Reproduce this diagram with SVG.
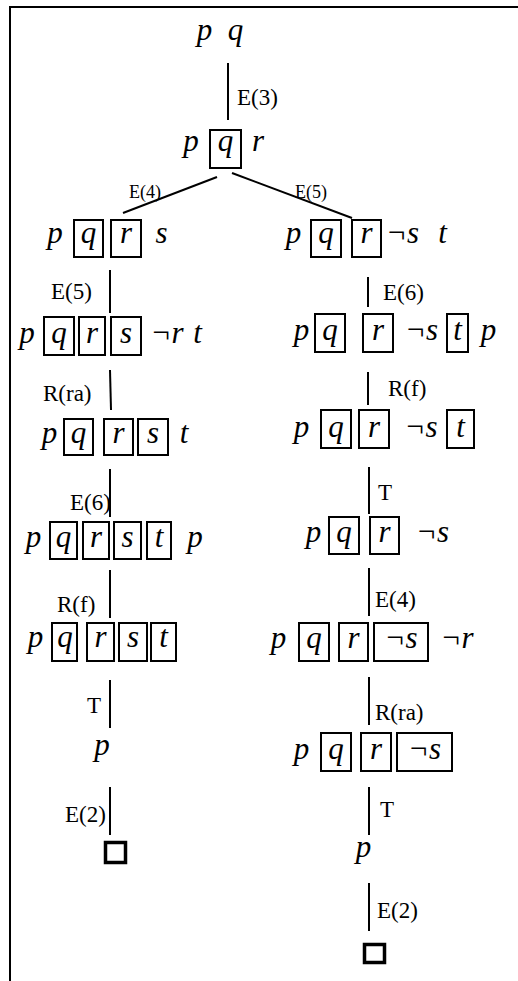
<svg xmlns="http://www.w3.org/2000/svg" width="518" height="981" viewBox="0 0 518 981">
<style>
.f{font-family:'Liberation Serif','Times New Roman',serif;font-style:italic;font-size:31px;text-anchor:middle;fill:#000}
.lb{font-family:'Liberation Serif','Times New Roman',serif;font-size:23px;fill:#000}
.ls{font-size:18px}
.bx{fill:none;stroke:#000;stroke-width:2}
.ln{stroke:#000;stroke-width:2;fill:none}
.sq{fill:none;stroke:#000;stroke-width:3.5}
</style>
<rect width="518" height="981" fill="#fff"/>
<path class="ln" d="M10,981 V7 H518"/>
<g id="connectors">
<line class="ln" x1="228" y1="63" x2="228" y2="120"/><text class="lb" x="237" y="105">E(3)</text>
<line class="ln" x1="217" y1="177" x2="123" y2="213"/><text class="lb ls" x="129" y="198">E(4)</text>
<line class="ln" x1="232" y1="173" x2="352" y2="218"/><text class="lb ls" x="295" y="198">E(5)</text>
<line class="ln" x1="110" y1="270" x2="110" y2="313"/><text class="lb" x="51" y="299">E(5)</text>
<line class="ln" x1="110" y1="370" x2="111" y2="410"/><text class="lb" x="43" y="401">R(ra)</text>
<line class="ln" x1="110" y1="469" x2="110" y2="517"/><text class="lb" x="70" y="510">E(6)</text>
<line class="ln" x1="110" y1="570" x2="110" y2="618"/><text class="lb" x="57" y="612">R(f)</text>
<line class="ln" x1="110" y1="680" x2="110" y2="728"/><text class="lb" x="87" y="713">T</text>
<line class="ln" x1="110" y1="787" x2="110" y2="835"/><text class="lb" x="65" y="822">E(2)</text>
<line class="ln" x1="368" y1="277" x2="368" y2="307"/><text class="lb" x="383" y="300">E(6)</text>
<line class="ln" x1="368" y1="372" x2="368" y2="405"/><text class="lb" x="388" y="396">R(f)</text>
<line class="ln" x1="369" y1="467" x2="369" y2="514"/><text class="lb" x="378" y="500">T</text>
<line class="ln" x1="369" y1="568" x2="369" y2="616"/><text class="lb" x="375" y="607">E(4)</text>
<line class="ln" x1="369" y1="677" x2="369" y2="725"/><text class="lb" x="375" y="720">R(ra)</text>
<line class="ln" x1="369" y1="787" x2="369" y2="835"/><text class="lb" x="380" y="817">T</text>
<line class="ln" x1="369" y1="883" x2="369" y2="931"/><text class="lb" x="377" y="918">E(2)</text>
</g>
<g id="root"><text class="f" x="204.5" y="40">p</text><text class="f" x="235.5" y="40">q</text></g>
<g id="n2"><text class="f" x="191" y="151">p</text><rect class="bx" x="210" y="130" width="31" height="38"/><text class="f" x="225.5" y="151">q</text><text class="f" x="258" y="151">r</text></g>
<g id="l1"><text class="f" x="55" y="243">p</text><rect class="bx" x="74" y="220" width="29" height="37"/><text class="f" x="88.5" y="243">q</text><rect class="bx" x="111" y="220" width="30" height="37"/><text class="f" x="126" y="243">r</text><text class="f" x="161.5" y="243">s</text></g>
<g id="l2"><text class="f" x="27" y="343">p</text><rect class="bx" x="44" y="317" width="30" height="38"/><text class="f" x="59" y="343">q</text><rect class="bx" x="79" y="317" width="26" height="38"/><text class="f" x="92" y="343">r</text><rect class="bx" x="111" y="317" width="30" height="38"/><text class="f" x="126" y="343">s</text><text class="f" x="167" y="343">¬r</text><text class="f" x="197.5" y="343">t</text></g>
<g id="l3"><text class="f" x="49.5" y="443">p</text><rect class="bx" x="64" y="419" width="29" height="36"/><text class="f" x="78.5" y="443">q</text><rect class="bx" x="104" y="419" width="29" height="36"/><text class="f" x="118.5" y="443">r</text><rect class="bx" x="138" y="419" width="30" height="36"/><text class="f" x="153" y="443">s</text><text class="f" x="184" y="443">t</text></g>
<g id="l4"><text class="f" x="33.5" y="547">p</text><rect class="bx" x="50" y="522" width="27" height="37"/><text class="f" x="63.5" y="547">q</text><rect class="bx" x="83" y="522" width="26" height="37"/><text class="f" x="96" y="547">r</text><rect class="bx" x="114" y="522" width="27" height="37"/><text class="f" x="127.5" y="547">s</text><rect class="bx" x="147" y="522" width="24" height="37"/><text class="f" x="159" y="547">t</text><text class="f" x="195" y="547">p</text></g>
<g id="l5"><text class="f" x="35.5" y="647">p</text><rect class="bx" x="52" y="623" width="25" height="38"/><text class="f" x="65" y="647">q</text><rect class="bx" x="87" y="623" width="27" height="38"/><text class="f" x="100.5" y="647">r</text><rect class="bx" x="119" y="623" width="28" height="38"/><text class="f" x="133" y="647">s</text><rect class="bx" x="151" y="623" width="25" height="38"/><text class="f" x="163.5" y="647">t</text></g>
<g id="l6"><text class="f" x="102" y="755">p</text></g>
<g id="l7"><rect class="sq" x="105.5" y="842.5" width="20" height="20"/></g>
<g id="r1"><text class="f" x="293.5" y="243">p</text><rect class="bx" x="311" y="220" width="30" height="37"/><text class="f" x="326" y="243">q</text><rect class="bx" x="352" y="220" width="29" height="37"/><text class="f" x="366.5" y="243">r</text><text class="f" x="402.5" y="243">¬s</text><text class="f" x="442.5" y="243">t</text></g>
<g id="r2"><text class="f" x="301.5" y="340">p</text><rect class="bx" x="315" y="314" width="30" height="38"/><text class="f" x="330" y="340">q</text><rect class="bx" x="363" y="314" width="30" height="38"/><text class="f" x="378" y="340">r</text><text class="f" x="421.5" y="340">¬s</text><rect class="bx" x="447" y="314" width="21" height="38"/><text class="f" x="457.5" y="340">t</text><text class="f" x="488.5" y="340">p</text></g>
<g id="r3"><text class="f" x="301.5" y="437">p</text><rect class="bx" x="321" y="410" width="30" height="38"/><text class="f" x="336" y="437">q</text><rect class="bx" x="359" y="410" width="30" height="38"/><text class="f" x="374" y="437">r</text><text class="f" x="421" y="437">¬s</text><rect class="bx" x="447" y="410" width="27" height="38"/><text class="f" x="460.5" y="437">t</text></g>
<g id="r4"><text class="f" x="313.5" y="542">p</text><rect class="bx" x="329" y="517" width="30" height="37"/><text class="f" x="344" y="542">q</text><rect class="bx" x="370" y="517" width="29" height="37"/><text class="f" x="384.5" y="542">r</text><text class="f" x="432.5" y="542">¬s</text></g>
<g id="r5"><text class="f" x="278.5" y="648">p</text><rect class="bx" x="299" y="623" width="30" height="38"/><text class="f" x="314" y="648">q</text><rect class="bx" x="339" y="623" width="29" height="38"/><text class="f" x="353.5" y="648">r</text><rect class="bx" x="374" y="623" width="54" height="38"/><text class="f" x="401" y="648">¬s</text><text class="f" x="457" y="648">¬r</text></g>
<g id="r6"><text class="f" x="301.5" y="759">p</text><rect class="bx" x="321" y="733" width="30" height="38"/><text class="f" x="336" y="759">q</text><rect class="bx" x="361" y="733" width="30" height="38"/><text class="f" x="376" y="759">r</text><rect class="bx" x="397" y="733" width="55" height="38"/><text class="f" x="424.5" y="759">¬s</text></g>
<g id="r7"><text class="f" x="363.5" y="857">p</text></g>
<g id="r8"><rect class="sq" x="364.5" y="944.5" width="20" height="18"/></g>
</svg>
